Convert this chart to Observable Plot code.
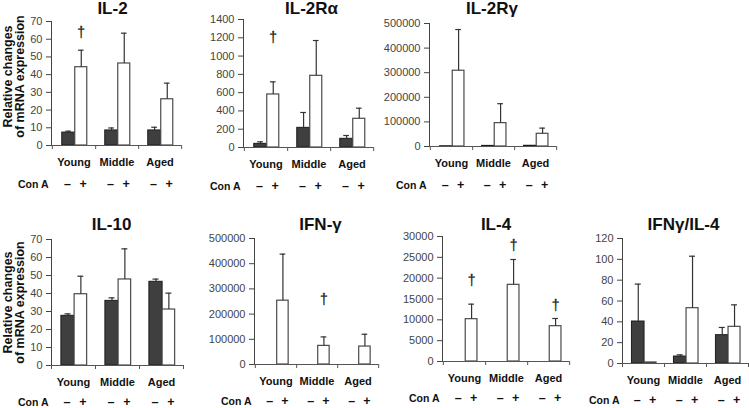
<!DOCTYPE html>
<html>
<head>
<meta charset="utf-8">
<script src="https://cdn.jsdelivr.net/npm/d3@7"></script>
<script src="https://cdn.jsdelivr.net/npm/@observablehq/plot@0.6"></script>
<style>
  html, body { margin: 0; padding: 0; background: #fff; }
  #chart { position: relative; width: 749px; height: 408px; overflow: hidden; background: #fff; }
  #chart svg { position: absolute; }
</style>
</head>
<body>
<div id="chart"></div>
<script>
// ---------------- data ----------------
const groups = ["Young", "Middle", "Aged"];
const conA = ["–", "+"];
const conALabel = "Con A";
const yTitleLines = ["Relative changes", "of mRNA expression"];
const titles = ["IL-2", "IL-2Rα", "IL-2Rγ", "IL-10", "IFN-γ", "IL-4", "IFNγ/IL-4"];

// IL-2
const il2Neg = [7.3, 8.5, 8.5];
const il2NegSd = [0.8, 1.4, 1.8];
const il2Pos = [44.2, 46.3, 26.1];
const il2PosSd = [9.6, 17.1, 9.1];
const il2Dagger = [64, null, null];
const il2Ticks = [0, 10, 20, 30, 40, 50, 60, 70];

// IL-2Rα
const il2raNeg = [40, 215, 95];
const il2raNegSd = [22, 168, 36];
const il2raPos = [580, 784, 314];
const il2raPosSd = [138, 386, 116];
const il2raDagger = [1203, null, null];
const il2raTicks = [0, 200, 400, 600, 800, 1000, 1200, 1400];

// IL-2Rγ
const il2rgNeg = [1000, 2500, 3000];
const il2rgNegSd = [0, 0, 0];
const il2rgPos = [308000, 95000, 51600];
const il2rgPosSd = [167500, 79000, 23100];
const il2rgDagger = [null, null, null];
const il2rgTicks = [0, 100000, 200000, 300000, 400000, 500000];

// IL-10
const il10Neg = [27.6, 35.9, 46.5];
const il10NegSd = [1.1, 1.7, 1.5];
const il10Pos = [39.6, 47.8, 31.1];
const il10PosSd = [10, 17, 9.1];
const il10Dagger = [null, null, null];
const il10Ticks = [0, 10, 20, 30, 40, 50, 60, 70];

// IFN-γ
const ifngNeg = [0, 0, 0];
const ifngNegSd = [0, 0, 0];
const ifngPos = [253300, 73900, 71200];
const ifngPosSd = [184700, 35600, 48800];
const ifngDagger = [null, 256700, null];
const ifngTicks = [0, 100000, 200000, 300000, 400000, 500000];

// IL-4
const il4Neg = [0, 0, 0];
const il4NegSd = [0, 0, 0];
const il4Pos = [10160, 18400, 8480];
const il4PosSd = [3600, 6080, 1840];
const il4Dagger = [19440, 27840, 13440];
const il4Ticks = [0, 5000, 10000, 15000, 20000, 25000, 30000];

// IFNγ/IL-4
const ratioNeg = [40.3, 6.7, 27.2];
const ratioNegSd = [35.9, 1.6, 7.4];
const ratioPos = [1, 53.1, 35.2];
const ratioPosSd = [0, 49.9, 21.1];
const ratioDagger = [null, null, null];
const ratioTicks = [0, 20, 40, 60, 80, 100, 120];

const panelData = [
  {neg: il2Neg, negSd: il2NegSd, pos: il2Pos, posSd: il2PosSd, dagger: il2Dagger, ticks: il2Ticks},
  {neg: il2raNeg, negSd: il2raNegSd, pos: il2raPos, posSd: il2raPosSd, dagger: il2raDagger, ticks: il2raTicks},
  {neg: il2rgNeg, negSd: il2rgNegSd, pos: il2rgPos, posSd: il2rgPosSd, dagger: il2rgDagger, ticks: il2rgTicks},
  {neg: il10Neg, negSd: il10NegSd, pos: il10Pos, posSd: il10PosSd, dagger: il10Dagger, ticks: il10Ticks},
  {neg: ifngNeg, negSd: ifngNegSd, pos: ifngPos, posSd: ifngPosSd, dagger: ifngDagger, ticks: ifngTicks},
  {neg: il4Neg, negSd: il4NegSd, pos: il4Pos, posSd: il4PosSd, dagger: il4Dagger, ticks: il4Ticks},
  {neg: ratioNeg, negSd: ratioNegSd, pos: ratioPos, posSd: ratioPosSd, dagger: ratioDagger, ticks: ratioTicks}
];

// ---------------- layout ----------------
const layout = [
  {left: 0,   top: 0,   width: 190, height: 200, ml: 51, mr: 9,  mt: 21, mb: 55, titleDx: -4,  titleBase: 13, signDy: 42, yLabel: true, yLabDx: [-43.5, -31.5], yLabDy: -7},
  {left: 190, top: 0,   width: 190, height: 200, ml: 53, mr: 7,  mt: 19, mb: 53, titleDx: 3,   titleBase: 13, signDy: 42},
  {left: 380, top: 0,   width: 190, height: 200, ml: 49, mr: 14, mt: 23, mb: 54, titleDx: -1,  titleBase: 13, signDy: 42},
  {left: 0,   top: 200, width: 195, height: 208, ml: 51, mr: 12, mt: 39, mb: 43, titleDx: -6,  titleBase: 29, signDy: 40, yLabel: true, yLabDx: [-43.5, -31.5], yLabDy: 0},
  {left: 195, top: 200, width: 200, height: 208, ml: 59, mr: 17, mt: 38, mb: 44, titleDx: 4,   titleBase: 29, signDy: 40},
  {left: 395, top: 200, width: 180, height: 208, ml: 47, mr: 6,  mt: 36, mb: 47, titleDx: -10, titleBase: 29, signDy: 40},
  {left: 575, top: 200, width: 174, height: 208, ml: 47, mr: 1,  mt: 38, mb: 45, titleDx: -2,  titleBase: 29, signDy: 40}
];

const FONT = "Liberation Sans, Arial, Helvetica, sans-serif";
const negFrac = [0.225, 0.525];
const posFrac = [0.525, 0.81];
const chart = document.getElementById("chart");

titles.forEach((title, p) => {
  const D = panelData[p];
  const L = layout[p];
  const bw = (L.width - L.ml - L.mr) / groups.length;
  const cNeg = ((negFrac[0] + negFrac[1]) / 2 - 0.5) * bw;
  const cPos = ((posFrac[0] + posFrac[1]) / 2 - 0.5) * bw;
  const capHalf = 3;
  const rows = groups.map((g, i) => ({
    group: g, neg: D.neg[i], negTop: D.neg[i] + D.negSd[i], negSd: D.negSd[i],
    pos: D.pos[i], posTop: D.pos[i] + D.posSd[i], posSd: D.posSd[i], dagger: D.dagger[i]
  }));
  const yMax = D.ticks[D.ticks.length - 1];

  const marks = [
    // bars
    Plot.barY(rows.filter(d => d.neg > 0), {
      x: "group", y: "neg",
      insetLeft: negFrac[0] * bw, insetRight: (1 - negFrac[1]) * bw,
      fill: "#3f3f3f", stroke: "#1c1c1c", strokeWidth: 1
    }),
    Plot.barY(rows.filter(d => d.pos > 0), {
      x: "group", y: "pos",
      insetLeft: posFrac[0] * bw, insetRight: (1 - posFrac[1]) * bw,
      fill: "#ffffff", stroke: "#4a4a4a", strokeWidth: 1.2
    }),
    // error bars (upper)
    Plot.ruleX(rows.filter(d => d.negSd > 0), {x: "group", y1: "neg", y2: "negTop", dx: cNeg, stroke: "#333", strokeWidth: 1.2}),
    Plot.tickY(rows.filter(d => d.negSd > 0), {
      x: "group", y: "negTop",
      insetLeft: bw / 2 + cNeg - capHalf, insetRight: bw / 2 - cNeg - capHalf,
      stroke: "#333", strokeWidth: 1.2
    }),
    Plot.ruleX(rows.filter(d => d.posSd > 0), {x: "group", y1: "pos", y2: "posTop", dx: cPos, stroke: "#333", strokeWidth: 1.2}),
    Plot.tickY(rows.filter(d => d.posSd > 0), {
      x: "group", y: "posTop",
      insetLeft: bw / 2 + cPos - capHalf, insetRight: bw / 2 - cPos - capHalf,
      stroke: "#333", strokeWidth: 1.2
    }),
    // daggers
    Plot.text(rows.filter(d => d.dagger != null), {
      x: "group", y: "dagger", text: () => "†", dx: cPos,
      fontSize: 14, fill: "#222", stroke: "#222", strokeWidth: 0.3,
      textAnchor: "middle", lineAnchor: "middle", fontFamily: FONT
    }),
    // x axis line and boundary ticks
    Plot.ruleY([0], {stroke: "#555", strokeWidth: 1}),
    Plot.ruleX(groups, {x: d => d, y1: 0, y2: 0, dx: bw / 2, insetBottom: -4, stroke: "#555"}),
    Plot.ruleX(groups.slice(0, 1), {x: d => d, y1: 0, y2: 0, dx: -bw / 2, insetBottom: -4, stroke: "#555"}),
    // group labels
    Plot.text(groups, {
      x: d => d, frameAnchor: "bottom", dy: 20, lineAnchor: "bottom", textAnchor: "middle",
      fontWeight: "bold", fontSize: 11, fill: "#111", fontFamily: FONT
    }),
    // Con A signs
    Plot.text(groups, {
      x: d => d, text: () => conA[0], dx: cNeg - 1, frameAnchor: "bottom", dy: L.signDy,
      lineAnchor: "bottom", textAnchor: "middle", fontWeight: "bold", fontSize: 12.5, fill: "#111", fontFamily: FONT
    }),
    Plot.text(groups, {
      x: d => d, text: () => conA[1], dx: cPos + 2, frameAnchor: "bottom", dy: L.signDy,
      lineAnchor: "bottom", textAnchor: "middle", fontWeight: "bold", fontSize: 12.5, fill: "#111", fontFamily: FONT
    }),
    Plot.text([conALabel], {
      frameAnchor: "bottom-left", dx: -3, dy: L.signDy, textAnchor: "end", lineAnchor: "bottom",
      fontWeight: "bold", fontSize: 10.5, fill: "#111", fontFamily: FONT
    }),
    // title
    Plot.text([title], {
      frameAnchor: "top", dx: L.titleDx, dy: L.titleBase - L.mt, textAnchor: "middle", lineAnchor: "bottom",
      fontWeight: "bold", fontSize: 17, fill: "#111", fontFamily: FONT
    })
  ];
  if (L.yLabel) {
    yTitleLines.forEach((line, k) => {
      marks.push(Plot.text([line], {
        frameAnchor: "left", dx: L.yLabDx[k], dy: L.yLabDy, rotate: -90,
        textAnchor: "middle", lineAnchor: "middle",
        fontWeight: "bold", fontSize: 12.5, fill: "#111", fontFamily: FONT
      }));
    });
  }

  const svg = Plot.plot({
    width: L.width,
    height: L.height,
    marginLeft: L.ml,
    marginRight: L.mr,
    marginTop: L.mt,
    marginBottom: L.mb,
    style: {fontFamily: FONT, fontSize: "11px", color: "#444", background: "transparent", overflow: "visible"},
    x: {type: "band", domain: groups, padding: 0, axis: null},
    y: {domain: [0, yMax], ticks: D.ticks, tickFormat: d3.format("d"), tickSize: 5, tickPadding: 4, line: true, label: null},
    marks
  });
  svg.style.left = L.left + "px";
  svg.style.top = L.top + "px";
  svg.style.maxWidth = "none";
  chart.appendChild(svg);
});
</script>
</body>
</html>
